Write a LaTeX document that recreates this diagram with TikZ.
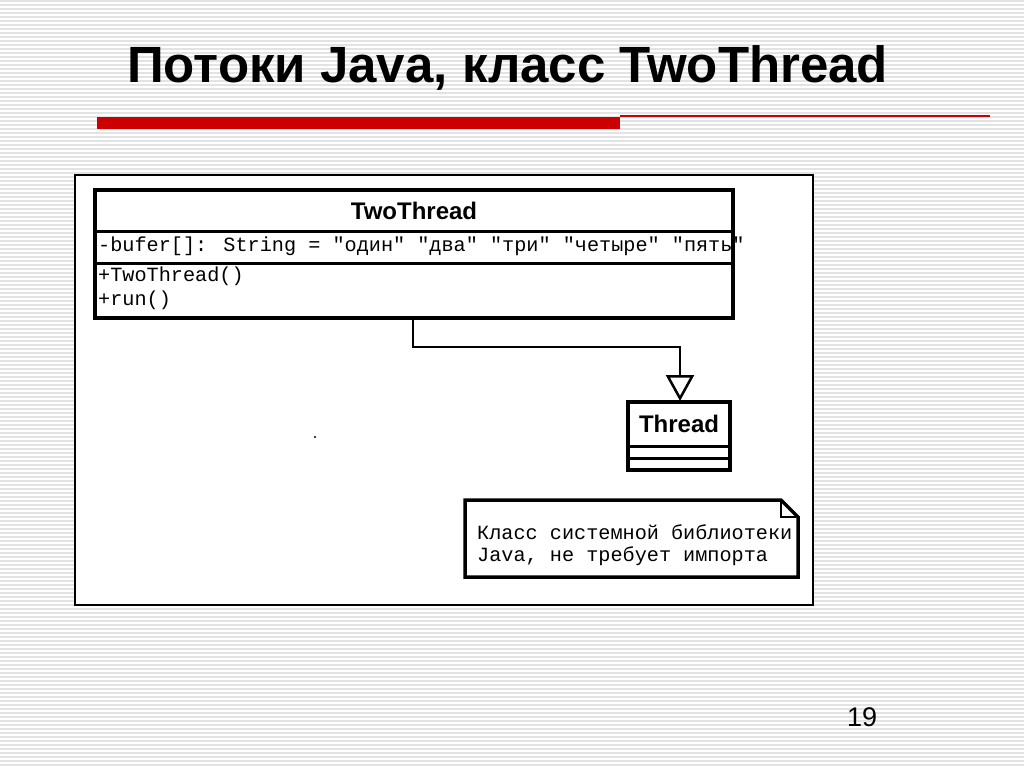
\documentclass[tikz,border=0pt]{standalone}
\usepackage{fontspec}
\setmainfont{Liberation Sans}
\newfontfamily\monof{Liberation Mono}
\usetikzlibrary{arrows.meta}
\tikzset{
  umlbox/.style={draw=black,line width=3.5pt,fill=white},
  thinline/.style={draw=black,line width=3pt},
  mtext/.style={anchor=west,inner sep=0pt,font=\monof\fontsize{20.2}{22}\selectfont},
}
\begin{document}
\begin{tikzpicture}[x=1pt,y=-1pt]
\useasboundingbox (0,0) rectangle (1024,767);
\fill[white] (0,0) rectangle (1024,767);
\foreach \i in {0,4,...,764} \draw[gray!22,line width=1.6pt] (0,\i+1) -- (1024,\i+1);
% title
\node[anchor=west,inner sep=0pt,font=\bfseries\fontsize{51}{58}\selectfont] (title) at (127,68) {Потоки Java, класс TwoThread};
\fill[red!80!black] (97,117) rectangle (620,129);
\draw[red!80!black,line width=1.3pt] (620,116) -- (990,116);
% panel
\draw[fill=white,line width=1.8pt] (75,175) rectangle (813,605);
% TwoThread
\draw[umlbox] (95,190) rectangle (733,318);
\draw[thinline] (95,232) -- (733,232);
\draw[thinline] (95,263) -- (733,263);
\node[inner sep=0pt,font=\bfseries\fontsize{24}{26}\selectfont] (tt) at (414,211) {TwoThread};
\node[mtext] (attr) at (98,246) {-bufer[]: String = "один" "два" "три" "четыре" "пять"};
\node[mtext] (m1) at (98,276) {+TwoThread()};
\node[mtext] (m2) at (98,300) {+run()};
\coordinate (ttb) at (413,318);
% Thread
\draw[umlbox] (628,402) rectangle (730,470);
\draw[thinline] (628,446) -- (730,446);
\draw[thinline] (628,458) -- (730,458);
\node[inner sep=0pt,font=\bfseries\fontsize{24}{26}\selectfont] (th) at (679,424) {Thread};
\coordinate (tht) at (680,401);
\draw[line width=2.5pt,-{Triangle[open,length=26pt,width=28pt,line width=2.5pt]}] (ttb) -- (413,347) -- (680,347) -- (tht);
% note
\draw[line width=3.5pt,fill=white] (465,500) -- (781,500) -- (798,517) -- (798,577) -- (465,577) -- cycle;
\draw[line width=1.5pt] (781,500) -- (781,517) -- (798,517);
\node[mtext] (n1) at (477,532) {Класс системной библиотеки};
\node[mtext] (n2) at (477,556) {Java, не требует импорта};
\fill (315,437) circle (1.2pt);
\node[anchor=west,inner sep=0pt,font=\fontsize{27}{30}\selectfont] (pg) at (847,717) {19};
\end{tikzpicture}
\end{document}
